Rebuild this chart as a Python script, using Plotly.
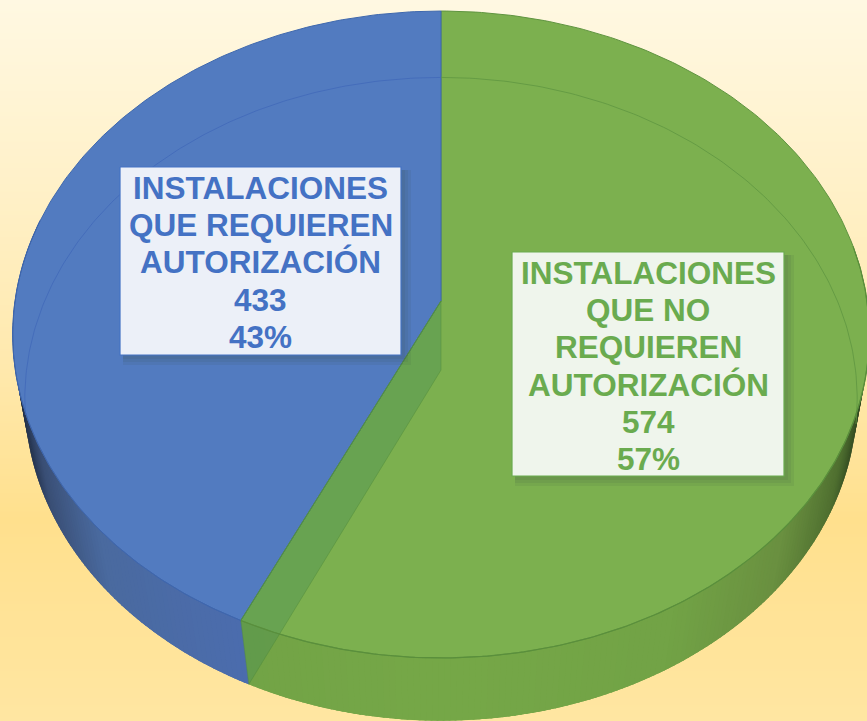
import numpy as np
import plotly.graph_objects as go

# Data
categories = ["INSTALACIONES QUE NO REQUIEREN AUTORIZACIÓN", "INSTALACIONES QUE REQUIEREN AUTORIZACIÓN"]
values = [574, 433]
label_lines = [["INSTALACIONES", "QUE NO", "REQUIEREN", "AUTORIZACIÓN"],
               ["INSTALACIONES", "QUE REQUIEREN", "AUTORIZACIÓN"]]

W, H = 867, 721
BLUE, GREEN = "#527bc0", "#7cb04f"
TXT = ["#6aab4f", "#4472c4"]

# Perspective view of the pie's two faces: centre x, centre y, half-width, half-height, perspective
TOP = (441.0, 301.0, 426.0, 320.0, 0.1036)
BOT = (441.0, 370.0, 414.5, 319.0, 0.0903)

def project(face, theta):
    cx, cy, a, b, k = face
    u, v = np.sin(theta), -np.cos(theta)
    w = 1 - k * v
    return cx + a * u / w, cy + b * v / w

split = 2 * np.pi * values[0] / sum(values)   # clockwise from 12 o'clock
fig = go.Figure()

def poly(x, y, fill, line=None, lw=0.0):
    fig.add_trace(go.Scatter(x=list(x), y=list(y), mode="lines", fill="toself", fillcolor=fill,
                             line=dict(color=line or fill, width=lw), hoverinfo="skip", showlegend=False))

def path(x, y, color, lw=1.0):
    fig.add_trace(go.Scatter(x=list(x), y=list(y), mode="lines", line=dict(color=color, width=lw),
                             hoverinfo="skip", showlegend=False))

# Background gradient
ys = np.linspace(0, H, 60)
fig.add_trace(go.Heatmap(x=[0, W], y=ys, z=[[float(t), float(t)] for t in ys], zmin=0, zmax=H, zsmooth="best",
                         showscale=False, hoverinfo="skip",
                         colorscale=[[0, "#fff8e2"], [0.25, "#fff1c9"], [0.5, "#ffe9ae"], [0.72, "#ffe08d"], [1, "#ffe6a2"]]))

def hexrgb(h):
    return np.array([int(h[i:i + 2], 16) for i in (1, 3, 5)], float)

def shade(stops, uabs):
    pos = [s[0] for s in stops]
    cols = np.array([hexrgb(s[1]) for s in stops])
    c = [np.interp(uabs, pos, cols[:, i]) for i in range(3)]
    return "rgb(%d,%d,%d)" % tuple(c)

blue_wall = [(0.0, "#4c6dae"), (0.43, "#4c6dae"), (0.75, "#4a6a9f"), (0.9, "#3a4f75"), (0.97, "#1f2d45"), (1.0, "#141c2c")]
green_wall = [(0.0, "#76a848"), (0.5, "#72a346"), (0.75, "#6a9040"), (0.9, "#4f6f30"), (0.97, "#2f4620"), (1.0, "#22341a")]

def wall(t0, t1, stops):
    # Painted back to front with each band running on under the next, so no seams show
    n = max(2, int(abs(t1 - t0) / np.radians(0.75)))
    edges = np.linspace(t0, t1, n + 1)
    for a, b in zip(edges[:-1], edges[1:]):
        c = min(b + np.radians(1.0), t1) if t1 > t0 else max(b - np.radians(1.0), t1)
        xa, ya = project(TOP, a); xb, yb = project(TOP, c)
        xc, yc = project(BOT, c); xd, yd = project(BOT, a)
        col = shade(stops, abs(np.sin((a + b) / 2)))
        poly([xa, xb, xc, xd, xa], [ya, yb, yc, yd, ya], col)

wall(np.radians(80), split, green_wall)
wall(np.radians(285), split, blue_wall)

# Top face sectors
t_g = np.linspace(0, split, 240)
t_b = np.linspace(split, 2 * np.pi, 200)
gx, gy = project(TOP, t_g); bx, by = project(TOP, t_b)
poly(np.r_[TOP[0], gx, TOP[0]], np.r_[TOP[1], gy, TOP[1]], GREEN, "#5f9440", 1)
poly(np.r_[TOP[0], bx, TOP[0]], np.r_[TOP[1], by, TOP[1]], BLUE, "#3f68ad", 1)

# Translucent cut face seen through the green slice
sx0, sy0 = project(TOP, split); sx1, sy1 = project(BOT, split)
poly([TOP[0], BOT[0], sx1, sx0, TOP[0]], [TOP[1], BOT[1], sy1, sy0, TOP[1]],
     "rgba(70,140,85,0.35)", "rgba(80,140,60,0.6)", 0.8)
path([TOP[0], sx0], [TOP[1], sy0], "#55913f", 1)

# Lower rim seen through the top face
lg = np.linspace(0, split, 240)
path(*project(BOT, lg[lg < np.radians(100)]), "rgba(95,150,65,0.8)", 1)
lb = np.linspace(np.radians(262), 2 * np.pi, 150)
path(*project(BOT, lb), "rgba(65,105,185,0.8)", 1)
# Top rim over the near wall
rg = np.linspace(np.radians(80), split, 200)
path(*project(TOP, rg), "#5a8f3c", 1.2)
rb = np.linspace(split, np.radians(285), 100)
path(*project(TOP, rb), "#3f66ad", 1.0)

# Labels
boxes = [(512, 784, 252, 476), (120, 401, 167, 355)]
fills = ["#eff5ec", "#ecf0f8"]
edge = ["#6aab4f", "#4472c4"]
first_y = [273, 188]
step = 37.2
annos = []
for i, (x0, x1, y0, y1) in enumerate(boxes):
    for d in (10, 7, 4):
        poly([x0 + 3, x1 + d, x1 + d, x0 + 3, x0 + 3], [y0 + 3, y0 + 3, y1 + d, y1 + d, y0 + 3], "rgba(50,80,70,0.09)")
    poly([x0, x1, x1, x0, x0], [y0, y0, y1, y1, y0], fills[i], edge[i], 1.2)
    share = round(100 * values[i] / sum(values))
    for j, txt in enumerate(label_lines[i] + [str(values[i]), f"{share}%"]):
        annos.append(dict(x=(x0 + x1) / 2, y=first_y[i] + j * step, xref="x", yref="y", text=f"<b>{txt}</b>",
                          showarrow=False, xanchor="center", yanchor="middle",
                          font=dict(family="Liberation Sans", size=31.5, color=TXT[i])))

fig.update_layout(width=W, height=H, margin=dict(l=0, r=0, t=0, b=0), showlegend=False,
                  paper_bgcolor="#ffe9ae", plot_bgcolor="#ffe9ae", annotations=annos,
                  xaxis=dict(range=[0, W], visible=False, fixedrange=True),
                  yaxis=dict(range=[H, 0], visible=False, fixedrange=True))
fig.write_html("out.html", config=dict(displayModeBar=False),
               post_script="document.body.style.margin='0';document.documentElement.style.overflow='hidden';")
